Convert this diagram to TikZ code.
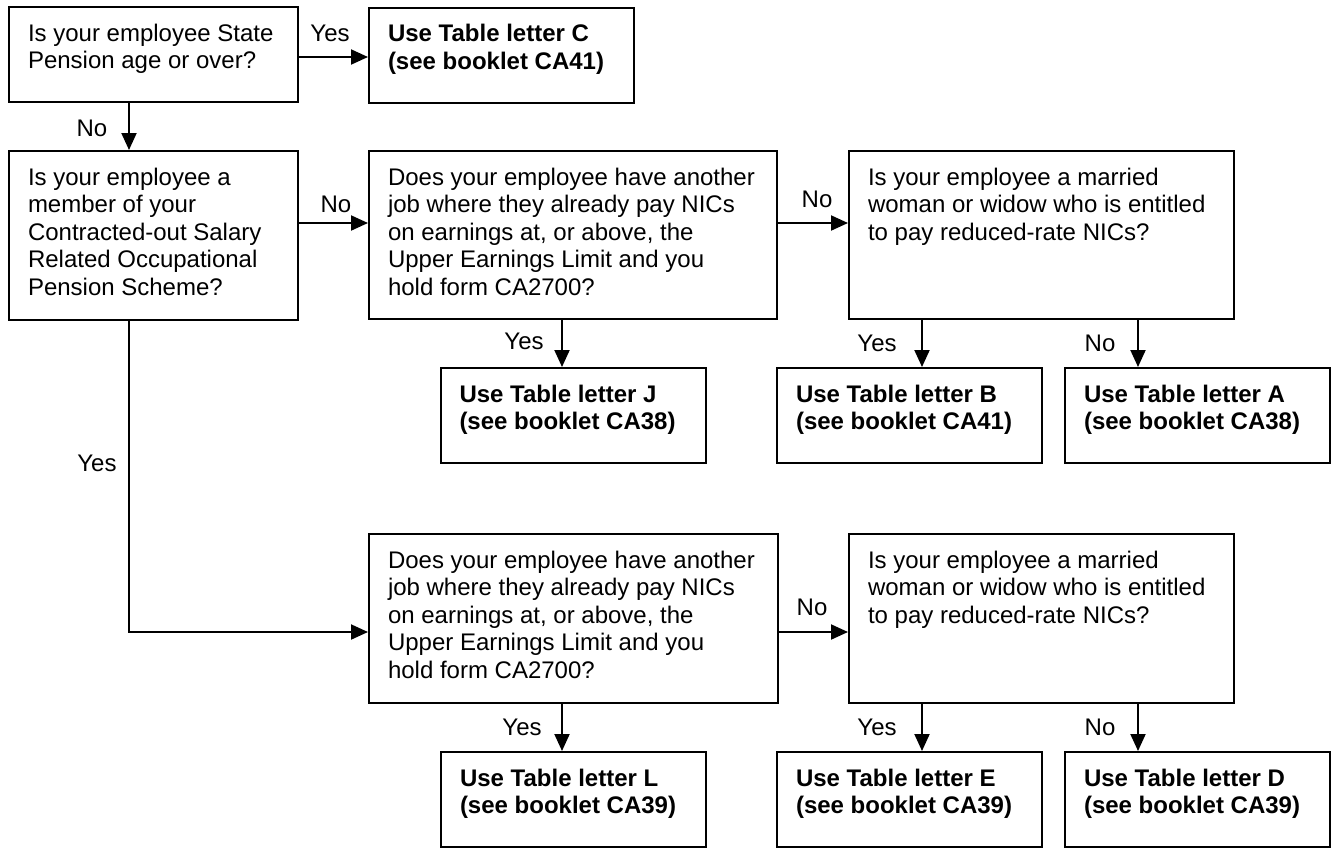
\documentclass[tikz,border=0pt]{standalone}
\usepackage{fontspec}
\setmainfont{Liberation Sans}
\usetikzlibrary{arrows.meta}

\begin{document}
\begin{tikzpicture}[
        x=1pt, y=-1pt,
        every node/.style={font=\fontsize{24}{27.5}\selectfont},
        qbox/.style 2 args={
            rectangle,
            draw,
            line width=2pt,
            inner xsep=19pt,
            inner ysep=17pt,
            execute at begin node={\begin{minipage}[c][\dimexpr#2pt-34pt\relax][t]{\dimexpr#1pt-38pt\relax}\raggedright},
            execute at end node={\end{minipage}}
        },
        rbox/.style={
            qbox={265}{95},
            font=\fontsize{24}{27.5}\selectfont\bfseries
        },
        lbl/.style={inner sep=0pt},
        arrow/.style={-{Triangle[length=17pt,width=15pt]}, line width=2pt}
    ]

        \useasboundingbox (0,0) rectangle (1332,847);

        \node[qbox={289}{95}] (age) at (153.5,54.5) {Is your employee State\\Pension age or over?};
        \node[rbox] (tabc) at (501.5,55) {Use Table letter C\\(see booklet CA41)};
        \node[qbox={289}{169}] (cosr) at (153.5,235.5) {Is your employee a\\member of your\\Contracted-out Salary\\Related Occupational\\Pension Scheme?};
        \node[qbox={408}{168}] (uel) at (573,235) {Does your employee have another\\job where they already pay NICs\\on earnings at, or above, the\\Upper Earnings Limit and you\\hold form CA2700?};
        \node[qbox={385}{168}] (mw) at (1041.5,235) {Is your employee a married\\woman or widow who is entitled\\to pay reduced-rate NICs?};
        \node[rbox] (tabj) at (573,415.5) {Use Table letter J\\(see booklet CA38)};
        \node[rbox] (tabb) at (909.5,415.5) {Use Table letter B\\(see booklet CA41)};
        \node[rbox] (taba) at (1197.5,415.5) {Use Table letter A\\(see booklet CA38)};
        \node[qbox={409}{169}] (uelb) at (573.5,618.5) {Does your employee have another\\job where they already pay NICs\\on earnings at, or above, the\\Upper Earnings Limit and you\\hold form CA2700?};
        \node[qbox={385}{169}] (mwb) at (1041.5,618.5) {Is your employee a married\\woman or widow who is entitled\\to pay reduced-rate NICs?};
        \node[rbox] (tabl) at (573.5,799.5) {Use Table letter L\\(see booklet CA39)};
        \node[rbox] (tabe) at (909.5,799.5) {Use Table letter E\\(see booklet CA39)};
        \node[rbox] (tabd) at (1197.5,799.5) {Use Table letter D\\(see booklet CA39)};

        % branch labels
        \node[lbl] (yesc) at (330,33) {Yes};
        \node[lbl] (noage) at (92,128) {No};
        \node[lbl] (nocosr) at (336,204) {No};
        \node[lbl] (nouel) at (817,199) {No};
        \node[lbl] (yesj) at (524,341) {Yes};
        \node[lbl] (yesb) at (877,343) {Yes};
        \node[lbl] (noa) at (1100,343) {No};
        \node[lbl] (yescosr) at (97,463) {Yes};
        \node[lbl] (nouelb) at (812,607) {No};
        \node[lbl] (yesl) at (522,727) {Yes};
        \node[lbl] (yese) at (877,727) {Yes};
        \node[lbl] (nod) at (1100,727) {No};

        \draw[arrow] ([yshift=-2.5pt]age.east) -- ([yshift=-2.5pt]age.east -| tabc.west);
        \draw[arrow] ([xshift=-24.5pt]age.south) -- ([xshift=-24.5pt]age.south |- cosr.north);
        \draw[arrow] ([yshift=12.5pt]cosr.east) -- ([yshift=12.5pt]cosr.east -| uel.west);
        \draw[arrow] ([yshift=12pt]uel.east) -- ([yshift=12pt]uel.east -| mw.west);
        \draw[arrow] ([xshift=-11pt]uel.south) -- ([xshift=-11pt]uel.south |- tabj.north);
        \draw[arrow] ([xshift=-119.5pt]mw.south) -- ([xshift=-119.5pt]mw.south |- tabb.north);
        \draw[arrow] ([xshift=96.5pt]mw.south) -- ([xshift=96.5pt]mw.south |- taba.north);
        \draw[arrow] ([xshift=-24.5pt]cosr.south) |- ([yshift=-13.5pt]uelb.west);
        \draw[arrow] ([yshift=-13.5pt]uelb.east) -- ([yshift=-13.5pt]uelb.east -| mwb.west);
        \draw[arrow] ([xshift=-11.5pt]uelb.south) -- ([xshift=-11.5pt]uelb.south |- tabl.north);
        \draw[arrow] ([xshift=-119.5pt]mwb.south) -- ([xshift=-119.5pt]mwb.south |- tabe.north);
        \draw[arrow] ([xshift=96.5pt]mwb.south) -- ([xshift=96.5pt]mwb.south |- tabd.north);

    \end{tikzpicture}
\end{document}
